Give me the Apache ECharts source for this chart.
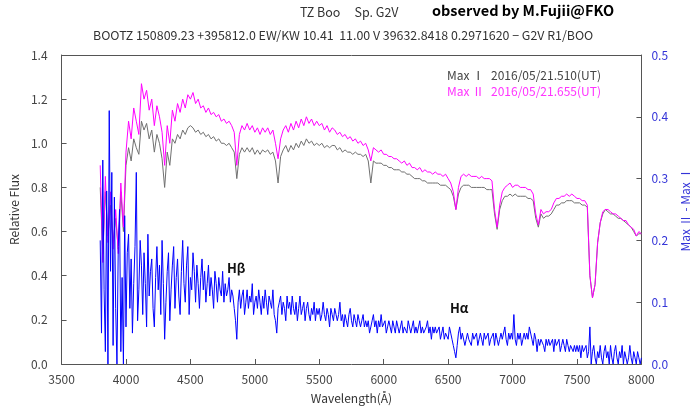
<!DOCTYPE html>
<html><head><meta charset="utf-8">
<script src="https://cdn.jsdelivr.net/npm/echarts@6/dist/echarts.min.js"></script>
<style>html,body{margin:0;padding:0;background:#fff}#c{width:699px;height:409px}</style>
</head><body><div id="c"></div>
<script>
// Sampling grids (Å)
const fluxStart = 3800, fluxStep = 20;
const diffStart = 3800, diffStep = 10;

// Max I (gray), relative flux, every 20 Å from 3800 to 8000
const maxI = [
0.80,0.50,0.78,0.58,0.72,0.55,0.66,0.52,0.78,0.60,
0.90,0.98,0.92,1.02,0.98,0.95,1.10,1.06,1.09,1.02,
1.06,0.96,1.04,1.00,0.93,0.80,0.96,0.90,1.02,1.00,
1.04,1.02,1.06,1.04,1.07,1.08,1.07,1.05,1.06,1.04,
1.05,1.03,1.04,1.02,1.03,1.01,1.02,1.00,1.00,0.99,
1.00,0.98,0.96,0.84,0.95,0.98,0.96,0.98,0.96,0.98,
0.95,0.97,0.95,0.97,0.96,0.97,0.95,0.96,0.92,0.82,
0.94,0.97,0.99,0.96,0.99,0.97,1.00,0.98,1.01,0.99,
1.02,1.00,1.01,0.99,1.00,0.99,1.00,0.98,0.99,0.98,
0.99,0.99,0.97,0.98,0.96,0.97,0.96,0.96,0.95,0.96,
0.95,0.95,0.94,0.95,0.92,0.82,0.92,0.91,0.91,0.91,
0.90,0.90,0.89,0.89,0.88,0.88,0.88,0.87,0.87,0.86,
0.86,0.85,0.84,0.84,0.84,0.83,0.83,0.82,0.82,0.82,
0.82,0.82,0.81,0.81,0.81,0.80,0.79,0.76,0.70,0.77,
0.80,0.81,0.81,0.81,0.80,0.80,0.80,0.80,0.80,0.80,
0.79,0.79,0.79,0.68,0.61,0.70,0.74,0.76,0.76,0.77,
0.76,0.77,0.76,0.76,0.76,0.76,0.75,0.75,0.74,0.66,
0.62,0.68,0.66,0.67,0.67,0.68,0.70,0.72,0.72,0.73,
0.73,0.74,0.74,0.74,0.73,0.73,0.73,0.72,0.72,0.71,
0.40,0.30,0.36,0.55,0.64,0.68,0.70,0.69,0.68,0.68,
0.67,0.66,0.66,0.65,0.64,0.63,0.62,0.60,0.58,0.59,
0.59
];
// Max II (magenta), every 20 Å from 3800 to 8000
const maxII = [
0.90,0.46,0.85,0.55,0.78,0.52,0.70,0.50,0.82,0.62,
0.96,1.10,1.02,1.16,1.10,1.04,1.27,1.20,1.24,1.15,
1.20,1.08,1.17,1.12,1.05,0.90,1.08,1.00,1.15,1.10,
1.18,1.14,1.20,1.16,1.22,1.20,1.23,1.18,1.20,1.16,
1.17,1.14,1.16,1.13,1.14,1.12,1.13,1.10,1.11,1.09,
1.10,1.08,1.05,0.90,1.04,1.08,1.06,1.09,1.06,1.08,
1.05,1.07,1.04,1.07,1.05,1.07,1.04,1.06,1.00,0.93,
1.02,1.06,1.08,1.05,1.09,1.06,1.10,1.07,1.11,1.08,
1.12,1.09,1.11,1.08,1.10,1.08,1.09,1.06,1.08,1.05,
1.07,1.06,1.04,1.05,1.03,1.04,1.02,1.03,1.01,1.02,
1.00,1.01,0.99,1.00,0.97,0.92,0.98,0.97,0.96,0.97,
0.95,0.95,0.94,0.94,0.93,0.93,0.92,0.91,0.92,0.90,
0.91,0.89,0.89,0.88,0.89,0.87,0.88,0.87,0.87,0.86,
0.87,0.86,0.86,0.85,0.86,0.84,0.82,0.78,0.70,0.80,
0.85,0.86,0.85,0.86,0.85,0.85,0.85,0.84,0.85,0.84,
0.84,0.84,0.83,0.70,0.62,0.72,0.78,0.80,0.81,0.82,
0.80,0.81,0.81,0.80,0.80,0.80,0.79,0.79,0.77,0.68,
0.63,0.70,0.68,0.69,0.69,0.70,0.73,0.75,0.75,0.76,
0.76,0.77,0.76,0.77,0.76,0.75,0.75,0.74,0.74,0.72,
0.40,0.30,0.36,0.55,0.64,0.69,0.70,0.70,0.69,0.68,
0.68,0.67,0.66,0.65,0.65,0.63,0.62,0.61,0.58,0.60,
0.59
];
// Max II - Max I (blue, right axis), every 10 Å from 3800 to 8000
const diff = [
0.20,0.05,0.33,0.12,0.02,0.28,0.00,0.41,0.15,0.31,
0.03,0.27,0.09,0.00,0.19,0.25,0.02,0.14,0.00,0.24,
0.06,0.18,0.21,0.09,0.17,0.05,0.13,0.19,0.31,0.07,
0.12,0.20,0.16,0.08,0.18,0.13,0.06,0.21,0.11,0.15,
0.17,0.09,0.06,0.14,0.19,0.12,0.16,0.08,0.20,0.13,
0.04,0.10,0.15,0.18,0.07,0.12,0.16,0.19,0.09,0.14,
0.17,0.11,0.08,0.15,0.20,0.13,0.10,0.16,0.19,0.08,
0.14,0.12,0.18,0.15,0.10,0.16,0.13,0.09,0.14,0.17,
0.12,0.15,0.10,0.13,0.16,0.11,0.14,0.12,0.09,0.15,
0.13,0.10,0.14,0.12,0.11,0.15,0.10,0.13,0.11,0.12,
0.14,0.10,0.12,0.11,0.09,0.07,0.04,0.10,0.12,0.09,
0.11,0.12,0.08,0.10,0.12,0.09,0.11,0.10,0.13,0.08,
0.10,0.11,0.09,0.12,0.10,0.08,0.11,0.09,0.12,0.10,
0.08,0.11,0.10,0.09,0.12,0.08,0.07,0.05,0.09,0.10,
0.11,0.08,0.10,0.09,0.07,0.11,0.09,0.10,0.08,0.11,
0.09,0.08,0.10,0.07,0.09,0.11,0.08,0.09,0.10,0.07,
0.09,0.10,0.08,0.07,0.09,0.08,0.10,0.07,0.09,0.08,
0.09,0.07,0.08,0.10,0.08,0.07,0.09,0.08,0.06,0.09,
0.08,0.07,0.09,0.08,0.07,0.08,0.10,0.07,0.08,0.06,
0.08,0.07,0.06,0.08,0.09,0.07,0.06,0.08,0.07,0.06,
0.08,0.07,0.06,0.07,0.08,0.06,0.07,0.06,0.07,0.05,
0.06,0.07,0.08,0.06,0.07,0.05,0.07,0.06,0.08,0.06,
0.06,0.07,0.05,0.06,0.07,0.06,0.05,0.07,0.06,0.05,
0.07,0.06,0.05,0.06,0.07,0.05,0.06,0.06,0.05,0.07,
0.06,0.05,0.06,0.07,0.05,0.06,0.05,0.06,0.07,0.05,
0.06,0.05,0.05,0.06,0.07,0.05,0.06,0.04,0.06,0.05,
0.06,0.05,0.05,0.06,0.04,0.05,0.06,0.04,0.05,0.05,
0.04,0.06,0.05,0.04,0.03,0.02,0.01,0.03,0.05,0.06,
0.04,0.05,0.05,0.03,0.04,0.05,0.04,0.04,0.03,0.05,
0.04,0.04,0.05,0.03,0.04,0.05,0.04,0.03,0.05,0.04,
0.04,0.05,0.03,0.04,0.04,0.05,0.03,0.05,0.04,0.03,
0.04,0.05,0.04,0.04,0.06,0.04,0.03,0.05,0.04,0.05,
0.04,0.08,0.04,0.03,0.05,0.04,0.05,0.03,0.04,0.05,
0.04,0.05,0.04,0.06,0.06,0.04,0.03,0.05,0.04,0.02,
0.04,0.03,0.04,0.04,0.03,0.02,0.04,0.03,0.04,0.03,
0.03,0.04,0.02,0.04,0.03,0.03,0.04,0.02,0.03,0.04,
0.03,0.02,0.04,0.03,0.02,0.03,0.03,0.02,0.03,0.02,
0.03,0.02,0.03,0.01,0.03,0.02,0.02,0.03,0.01,0.02,
0.06,0.00,0.02,0.03,0.01,0.00,0.02,0.01,0.03,0.01,
0.00,0.02,0.03,0.01,0.02,0.00,0.03,0.01,0.00,0.02,
0.03,0.01,0.00,0.02,0.01,0.03,0.00,0.02,0.02,0.00,
0.01,0.03,0.01,0.00,0.02,0.01,0.00,0.02,0.01,0.00,
0.01
];

const toPairs = (arr, start, step) => arr.map((v, i) => [start + i * step, v]);

const FONT = '"Noto Sans CJK JP", "Liberation Sans", sans-serif';
const chart = echarts.init(document.getElementById('c'), null, {renderer: 'canvas'});
const axisLine = {show: true, onZero: false, lineStyle: {color: '#555', width: 1}};
const tick = {show: true, inside: true, length: 5, lineStyle: {color: '#555'}};
chart.setOption({
  animation: false,
  backgroundColor: '#fff',
  grid: {left: 60, right: 52, top: 55, bottom: 44},
  xAxis: [{
    type: 'value', min: 3500, max: 8000, interval: 500,
    name: 'Wavelength(Å)', nameLocation: 'middle', nameGap: 28,
    nameTextStyle: {fontFamily: FONT, fontSize: 12, color: '#333'},
    axisLine: axisLine, axisTick: tick,
    axisLabel: {fontFamily: FONT, fontSize: 12, color: '#444', margin: 9, formatter: v => String(v)},
    splitLine: {show: false}
  }, {
    type: 'value', min: 3500, max: 8000, position: 'top',
    axisLine: axisLine, axisTick: {show: false}, axisLabel: {show: false}, splitLine: {show: false}
  }],
  yAxis: [{
    type: 'value', min: 0, max: 1.4, interval: 0.2,
    name: 'Relative Flux', nameLocation: 'middle', nameGap: 40,
    nameTextStyle: {fontFamily: FONT, fontSize: 12, color: '#333'},
    axisLine: axisLine, axisTick: tick,
    axisLabel: {fontFamily: FONT, fontSize: 12, color: '#444', margin: 14, formatter: v => v.toFixed(1)},
    splitLine: {show: false}
  }, {
    type: 'value', min: 0, max: 0.5, interval: 0.1, position: 'right',
    name: 'Max Ⅱ - Max Ⅰ', nameLocation: 'middle', nameGap: 36, nameRotate: 90,
    nameTextStyle: {fontFamily: FONT, fontSize: 12, color: '#3434d8'},
    axisLine: axisLine, axisTick: tick,
    axisLabel: {fontFamily: FONT, fontSize: 12, color: '#3434d8', margin: 10, formatter: v => v.toFixed(1)},
    splitLine: {show: false}
  }],
  series: [
    {type: 'line', name: 'Max Ⅰ', data: toPairs(maxI, fluxStart, fluxStep), yAxisIndex: 0,
     symbol: 'none', lineStyle: {color: '#707070', width: 1}, z: 2},
    {type: 'line', name: 'Max Ⅱ', data: toPairs(maxII, fluxStart, fluxStep), yAxisIndex: 0,
     symbol: 'none', lineStyle: {color: '#ff00ff', width: 1}, z: 3},
    {type: 'line', name: 'diff', data: toPairs(diff, diffStart, diffStep), yAxisIndex: 1,
     symbol: 'none', lineStyle: {color: '#0000ff', width: 1}, z: 4}
  ],
  graphic: [
    {type: 'text', left: 300, top: 6, style: {text: 'TZ Boo     Sp. G2V', font: '12.5px ' + FONT, fill: '#333'}},
    {type: 'text', left: 432, top: 3, style: {text: 'observed by M.Fujii@FKO', font: 'bold 14.5px ' + FONT, fill: '#000'}},
    {type: 'text', left: 93, top: 29, style: {text: 'BOOTZ 150809.23 +395812.0 EW/KW 10.41  11.00 V 39632.8418 0.2971620 − G2V R1/BOO', font: '12.4px ' + FONT, fill: '#333'}},
    {type: 'text', left: 447, top: 69, style: {text: 'Max Ⅰ', font: '12px ' + FONT, fill: '#444'}},
    {type: 'text', left: 491, top: 69, style: {text: '2016/05/21.510(UT)', font: '12px ' + FONT, fill: '#444'}},
    {type: 'text', left: 447, top: 85, style: {text: 'Max Ⅱ', font: '12px ' + FONT, fill: '#ff33ff'}},
    {type: 'text', left: 491, top: 85, style: {text: '2016/05/21.655(UT)', font: '12px ' + FONT, fill: '#ff33ff'}},
    {type: 'text', left: 227, top: 262, style: {text: 'Hβ', font: 'bold 13px ' + FONT, fill: '#111'}},
    {type: 'text', left: 450, top: 302, style: {text: 'Hα', font: 'bold 13px ' + FONT, fill: '#111'}}
  ]
});
</script>
</body></html>
